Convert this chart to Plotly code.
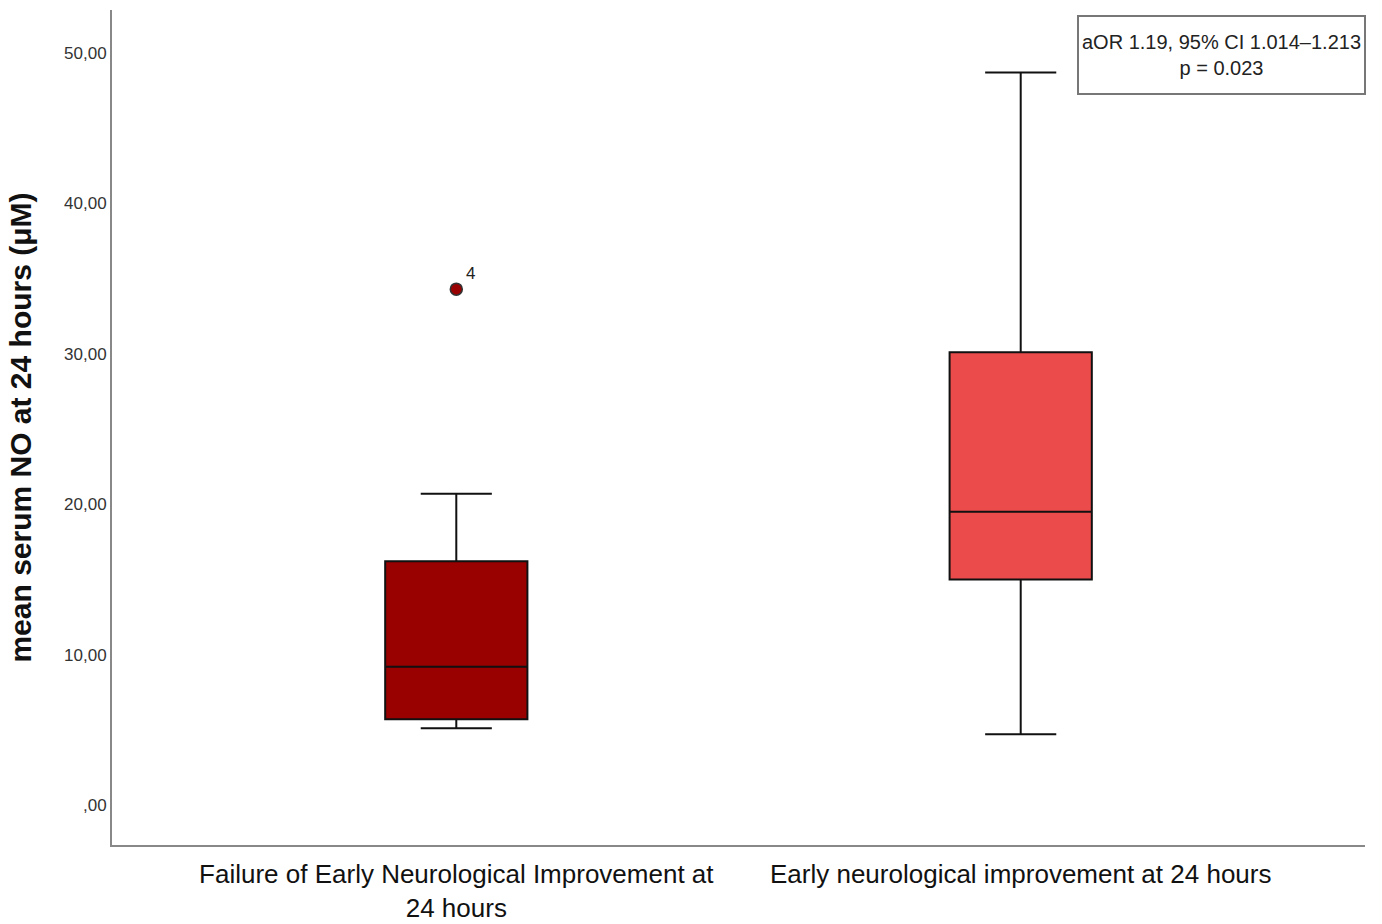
import plotly.graph_objects as go

categories = ["Failure of Early Neurological Improvement at<br>24 hours",
              "Early neurological improvement at 24 hours"]
lower_whisker = [5.1, 4.7]
q1_vals = [5.7, 15.0]
median_vals = [9.2, 19.5]
q3_vals = [16.2, 30.1]
upper_whisker = [20.7, 48.7]
box_colors = ["#990000", "#EC4B4C"]
outlier_values = [34.3]
outlier_labels = ["4"]
ytick_vals = [0, 10, 20, 30, 40, 50]
ytick_text = [",00", "10,00", "20,00", "30,00", "40,00", "50,00"]

sans = "Liberation Sans, Arial, sans-serif"

fig = go.Figure()
for i, cat in enumerate(categories):
    fig.add_trace(go.Box(
        x=[cat], q1=[q1_vals[i]], median=[median_vals[i]], q3=[q3_vals[i]],
        lowerfence=[lower_whisker[i]], upperfence=[upper_whisker[i]],
        fillcolor=box_colors[i], line=dict(color="#111111", width=2),
        whiskerwidth=0.5, width=0.252, boxpoints=False, showlegend=False,
        hoverinfo="skip"))

fig.add_trace(go.Scatter(
    x=[categories[0]] * len(outlier_values), y=outlier_values, mode="markers",
    marker=dict(color="#990000", size=12, line=dict(color="#333333", width=1.5)),
    showlegend=False, hoverinfo="skip"))

for v, lab in zip(outlier_values, outlier_labels):
    fig.add_annotation(x=categories[0], y=v, text=lab, showarrow=False,
                       xshift=14, yshift=16,
                       font=dict(family=sans, size=17, color="#222222"))

fig.add_annotation(
    xref="paper", yref="paper", x=1.0008, y=0.994, xanchor="right", yanchor="top",
    text="aOR 1.19, 95% CI 1.014\u20131.213<br>p = 0.023", showarrow=False,
    font=dict(family=sans, size=20, color="#222222"),
    bordercolor="#777777", borderwidth=2, borderpad=2, bgcolor="white",
    align="center", width=281, height=72)

fig.update_layout(
    width=1382, height=924,
    margin=dict(l=112, r=17, t=10, b=79),
    paper_bgcolor="white", plot_bgcolor="white",
    xaxis=dict(type="category", range=[-0.61, 1.61], showgrid=False,
               showline=True, linecolor="#888888", linewidth=2,
               tickfont=dict(family=sans, size=26, color="#111111"),
               ticklabelstandoff=5,
               ticks="", zeroline=False, automargin=False),
    yaxis=dict(range=[-2.66, 52.86], showgrid=False, zeroline=False,
               showline=True, linecolor="#888888", linewidth=2,
               tickvals=ytick_vals, ticktext=ytick_text, ticks="",
               tickfont=dict(family=sans, size=17, color="#333333"),
               automargin=False,
               title=dict(text="<b>mean serum NO at 24 hours (\u03bcM)</b>",
                          font=dict(family=sans, size=30, color="#111111"),
                          standoff=24)),
)

fig.write_html("out.html")
